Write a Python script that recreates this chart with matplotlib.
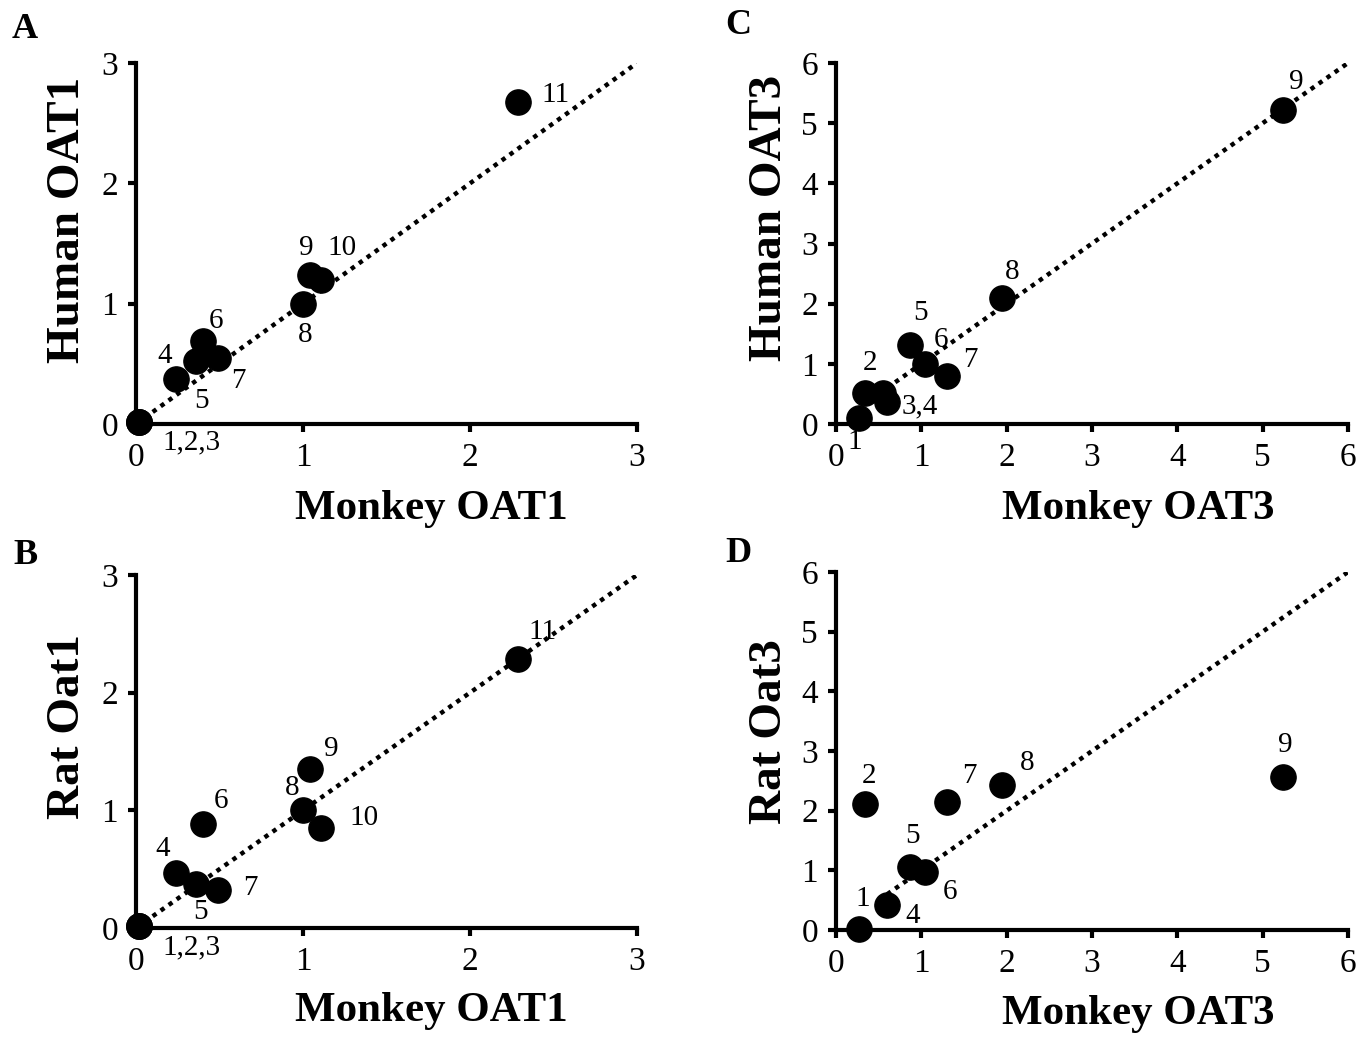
import numpy as np
import matplotlib
matplotlib.use("Agg")
import matplotlib.pyplot as plt

plt.rcParams['font.family'] = ['Liberation Serif', 'DejaVu Serif']

# compounds 1-11 for OAT1 panels
monkey_oat1 = [0.02, 0.02, 0.02, 0.24, 0.36, 0.40, 0.49, 1.00, 1.04, 1.11, 2.29]
human_oat1 = [0.02, 0.02, 0.02, 0.37, 0.52, 0.69, 0.55, 1.00, 1.24, 1.20, 2.68]
rat_oat1 = [0.02, 0.02, 0.02, 0.47, 0.37, 0.88, 0.32, 1.00, 1.35, 0.85, 2.29]
labels_a = ['1,2,3', '', '', '4', '5', '6', '7', '8', '9', '10', '11']
labels_b = ['1,2,3', '', '', '4', '5', '6', '7', '8', '9', '10', '11']

# compounds 1-9 for OAT3 panels
monkey_oat3 = [0.27, 0.34, 0.55, 0.60, 0.87, 1.04, 1.30, 1.95, 5.24]
human_oat3 = [0.10, 0.52, 0.52, 0.36, 1.32, 0.99, 0.80, 2.10, 5.22]
rat_oat3 = [0.02, 2.12, np.nan, 0.42, 1.06, 0.98, 2.14, 2.43, 2.56]
labels_c = ['1', '2', '', '3,4', '5', '6', '7', '8', '9']
labels_d = ['1', '2', '', '4', '5', '6', '7', '8', '9']

# label offsets in pixels (style only)
off_a = [(52, -21), (0, 0), (0, 0), (-11, 23), (5, -40), (13, 20), (21, -23),
         (2, -31), (-3, 27), (21, 32), (37, 7)]
off_b = [(52, -22), (0, 0), (0, 0), (-13, 24), (4, -28), (18, 23), (33, 2),
         (-11, 22), (22, 20), (43, 10), (24, 27)]
off_c = [(-4, -24), (5, 30), (0, 0), (33, -4), (10, 32), (16, 24), (23, 16),
         (10, 26), (13, 28)]
off_d = [(4, 30), (4, 28), (0, 0), (25, -11), (2, 31), (25, -20), (22, 26),
         (25, 22), (2, 32)]

fig = plt.figure(figsize=(13.68, 10.4), dpi=100)

W, H = 1368, 1040
def make_ax(left, right, top, bottom):
    return fig.add_axes([left / W, 1 - bottom / H, (right - left) / W, (bottom - top) / H])

ax_a = make_ax(136, 637, 63, 424)
ax_c = make_ax(836, 1348, 63, 424)
ax_b = make_ax(136, 637, 575, 928)
ax_d = make_ax(836, 1348, 572, 930)


def panel(ax, x, y, labels, offs, lim, line_start, xlabel, ylabel, ylab_x, ylab_y):
    ax.plot([line_start, lim], [line_start, lim], color='black', lw=3.2,
            linestyle=(0, (1, 1.2)), zorder=1)
    ax.scatter(x, y, s=330, color='black', zorder=3, clip_on=False)
    for xi, yi, lab, o in zip(x, y, labels, offs):
        if lab and not np.isnan(yi):
            ax.annotate(lab, (xi, yi), xytext=o, textcoords='offset pixels',
                        ha='center', va='center', fontsize=21)
    ax.set_xlim(0, lim)
    ax.set_ylim(0, lim)
    ticks = np.arange(0, lim + 1, 1)
    ax.set_xticks(ticks)
    ax.set_yticks(ticks)
    ax.set_xticklabels([str(t) for t in ticks.astype(int)])
    ax.set_yticklabels([str(t) for t in ticks.astype(int)])
    for s in ['top', 'right']:
        ax.spines[s].set_visible(False)
    for s in ['left', 'bottom']:
        ax.spines[s].set_linewidth(3)
    ax.tick_params(direction='out', length=6, width=3, labelsize=24, pad=7)
    ax.text(0.59, -0.235, xlabel, transform=ax.transAxes, ha='center', va='center',
            fontsize=31, fontweight='bold')
    ax.text(ylab_x, ylab_y, ylabel, transform=ax.transAxes, ha='center', va='center',
            fontsize=34, fontweight='bold', rotation=90)
    ax.patch.set_alpha(0)


panel(ax_a, monkey_oat1, human_oat1, labels_a, off_a, 3, 0.1, 'Monkey OAT1', 'Human OAT1', -0.136, 0.565)
panel(ax_b, monkey_oat1, rat_oat1, labels_b, off_b, 3, 0.1, 'Monkey OAT1', 'Rat Oat1', -0.136, 0.57)
panel(ax_c, monkey_oat3, human_oat3, labels_c, off_c, 6, 0.6, 'Monkey OAT3', 'Human OAT3', -0.129, 0.57)
panel(ax_d, monkey_oat3, rat_oat3, labels_d, off_d, 6, 0.6, 'Monkey OAT3', 'Rat Oat3', -0.129, 0.553)

for letter, x, y in [('A', 25, 30), ('B', 25, 555), ('C', 738, 25), ('D', 738, 553)]:
    fig.text(x / W, 1 - y / H, letter, ha='center', va='center', fontsize=26, fontweight='bold')

fig.savefig('out.png', dpi=100)
